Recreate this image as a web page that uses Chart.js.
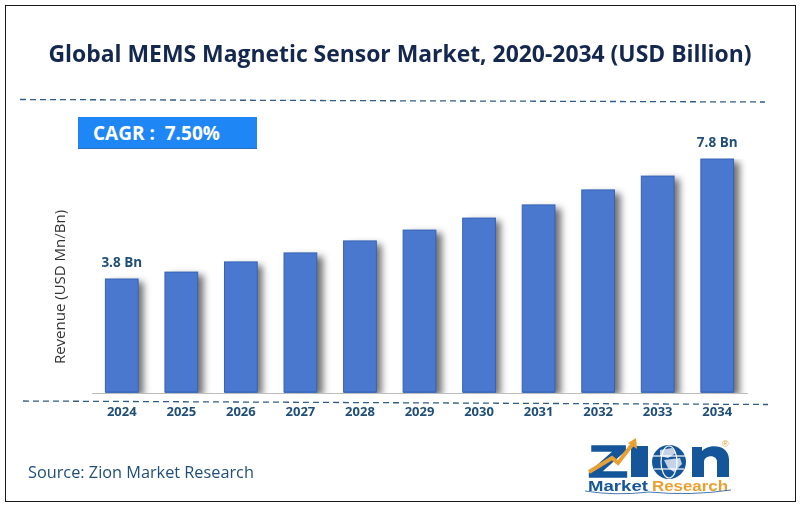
<!DOCTYPE html>
<html>
<head>
<meta charset="utf-8">
<script src="https://cdn.jsdelivr.net/npm/chart.js@4"></script>
<style>
  html, body { margin: 0; padding: 0; background: #fff; }
  #wrap { position: relative; width: 800px; height: 507px; overflow: hidden; font-family: "Open Sans", sans-serif; }
  #frame { position: absolute; left: 5px; top: 5px; width: 789px; height: 495px; border: 1px solid #1a1a1a; }
  #chart { position: absolute; left: 0; top: 0; }
  #deco { position: absolute; left: 0; top: 0; }
  #title { position: absolute; left: 0; width: 800px; top: 38px; text-align: center; font-size: 22.9px; font-weight: 700; color: #14284f; white-space: nowrap; }
  #cagr { position: absolute; left: 78px; top: 117px; width: 179px; height: 32px; background: #1f86f5; border-bottom: 1px solid #2a6fb8; box-sizing: border-box; color: #fff; font-size: 19px; font-weight: 700; line-height: 32px; padding-left: 15px; white-space: pre; }
  #source { position: absolute; left: 28px; top: 461px; font-size: 16.3px; color: #1f4e79; }
</style>
</head>
<body>
<div id="wrap">
  <canvas id="chart" width="800" height="507"></canvas>
  <svg id="deco" width="800" height="507" xmlns="http://www.w3.org/2000/svg">
    <line x1="20" y1="99.5" x2="765" y2="102" stroke="#2f5d85" stroke-width="1.3" stroke-dasharray="6 4"/>
    <line x1="23" y1="401" x2="768" y2="404.5" stroke="#2f5d85" stroke-width="1.3" stroke-dasharray="6 4"/>
    <text id="ytitle" transform="translate(65 287) rotate(-90)" text-anchor="middle" font-family="Open Sans" font-size="15" fill="#333">Revenue (USD Mn/Bn)</text>
    <!-- logo -->
    <text x="588" y="477" font-family="Liberation Sans" font-weight="700" font-size="44" fill="#15569b" stroke="#15569b" stroke-width="1.5" textLength="40" lengthAdjust="spacingAndGlyphs">Z</text>
    <rect x="631" y="446" width="17" height="31" fill="#15569b"/>
    <polyline points="589,472 612,458 618,463 635,441" fill="none" stroke="#e9a033" stroke-width="4"/>
    <polygon points="636,438 637,449 628,443" fill="#e9a033"/>
    <circle cx="669" cy="462" r="17" fill="#15569b"/>
    <ellipse cx="669" cy="462" rx="8" ry="16" fill="none" stroke="#fff" stroke-width="1.2"/>
    <line x1="653" y1="456" x2="685" y2="456" stroke="#fff" stroke-width="1.2"/>
    <line x1="654" y1="469" x2="684" y2="469" stroke="#fff" stroke-width="1.2"/>
    <path d="M660 450 L672 448 L676 453 L668 458 L660 456 Z M664 460 L680 458 L682 464 L674 472 L668 468 Z" fill="#fff" opacity=".75"/>
    <path d="M692 477 V447 H702 V451 C708 444 728 443 729 459 V477 H717 V461 C716 454 704 455 704 462 V477 Z" fill="#15569b"/>
    <text x="722" y="447" font-family="Liberation Sans" font-size="9" fill="#e9a033">®</text>
    <text x="588" y="491" font-family="Liberation Sans" font-weight="700" font-size="15" fill="#15569b" textLength="60" lengthAdjust="spacingAndGlyphs">Market</text>
    <text x="652" y="491" font-family="Liberation Sans" font-weight="700" font-size="15" fill="#e9a033" textLength="76" lengthAdjust="spacingAndGlyphs">Research</text>
    <path d="M585 491 Q615 496 649 492 Q690 496 731 490" fill="none" stroke="#15569b" stroke-width="0.8"/>
  </svg>
  <div id="frame"></div>
  <div id="title">Global MEMS Magnetic Sensor Market, 2020-2034 (USD Billion)</div>
  <div id="cagr">CAGR :  7.50%</div>
  <div id="source">Source: Zion Market Research</div>
</div>
<script>
const years = ["2024", "2025", "2026", "2027", "2028", "2029", "2030", "2031", "2032", "2033", "2034"];
const revenue = [3.8, 4.03, 4.37, 4.67, 5.07, 5.43, 5.83, 6.27, 6.77, 7.23, 7.8];
const barLabels = ["3.8 Bn", "", "", "", "", "", "", "", "", "", "7.8 Bn"];

// soft shadow on the right side of each bar
// (borderWidth stays 0, a bar border makes Chart.js clip the shadow away)
const barShadow = {
  id: "barShadow",
  beforeDatasetDraw(chart) {
    const ctx = chart.ctx;
    ctx.save();
    ctx.shadowColor = "rgba(50,50,50,.7)";
    ctx.shadowBlur = 7;
    ctx.shadowOffsetX = 6;
    ctx.shadowOffsetY = 3;
  },
  afterDatasetDraw(chart) {
    chart.ctx.restore();
  },
};

const valueLabels = {
  id: "valueLabels",
  afterDatasetsDraw(chart) {
    const ctx = chart.ctx;
    ctx.save();
    // thin darker edge round the bars
    ctx.strokeStyle = "#3563b5";
    ctx.lineWidth = 1;
    chart.getDatasetMeta(0).data.forEach((bar) => {
      ctx.strokeRect(bar.x - bar.width / 2, bar.y, bar.width, bar.base - bar.y - 1);
    });
    ctx.font = "700 13.5px 'Open Sans'";
    ctx.fillStyle = "#1f4e79";
    ctx.textAlign = "center";
    chart.getDatasetMeta(0).data.forEach((bar, i) => {
      if (barLabels[i]) ctx.fillText(barLabels[i], bar.x, bar.y - 12);
    });
    ctx.restore();
  },
};

new Chart(document.getElementById("chart"), {
  type: "bar",
  data: {
    labels: years,
    datasets: [{
      data: revenue,
      backgroundColor: "#4a78cf",
      borderWidth: 0,
      categoryPercentage: 0.55,
      barPercentage: 1,
    }],
  },
  options: {
    responsive: false,
    animation: false,
    layout: { padding: { left: 92, right: 53, top: 159, bottom: 0 } },
    plugins: { legend: { display: false }, tooltip: { enabled: false } },
    scales: {
      x: {
        grid: { display: false, drawTicks: false },
        border: { color: "#bdbdbd" },
        ticks: { color: "#1f4e79", font: { family: "Open Sans", size: 13, weight: "700" }, padding: 11, maxRotation: 0 },
        afterFit: (s) => { s.height = 114; },
      },
      y: { display: false, min: 0, max: 7.8 },
    },
  },
  plugins: [barShadow, valueLabels],
});
</script>
</body>
</html>
